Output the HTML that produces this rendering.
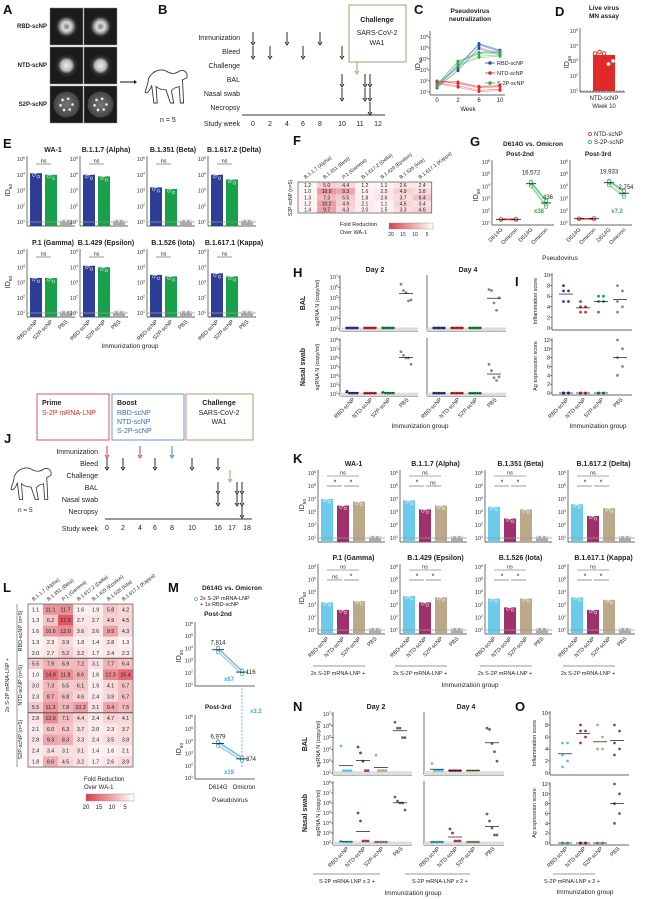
<!DOCTYPE html>
<html><head><meta charset="utf-8">
<style>
html,body{margin:0;padding:0;background:#fff;}
svg{display:block;font-family:"Liberation Sans",Arial,sans-serif;}
</style></head>
<body>
<svg id="fig" width="647" height="899" viewBox="0 0 647 899" xmlns="http://www.w3.org/2000/svg">
<defs>
<radialGradient id="emA" cx="50%" cy="50%" r="50%"><stop offset="0" stop-color="#777"/><stop offset="0.35" stop-color="#ddd"/><stop offset="0.55" stop-color="#999"/><stop offset="0.8" stop-color="#2a2a2a"/><stop offset="1" stop-color="#1a1a1a"/></radialGradient>
<radialGradient id="emB" cx="50%" cy="50%" r="50%"><stop offset="0" stop-color="#eee"/><stop offset="0.45" stop-color="#bbb"/><stop offset="0.7" stop-color="#333"/><stop offset="1" stop-color="#1a1a1a"/></radialGradient>
<radialGradient id="emC" cx="50%" cy="50%" r="50%"><stop offset="0" stop-color="#777"/><stop offset="1" stop-color="#444"/></radialGradient>
<linearGradient id="foldGrad" x1="0" x2="1"><stop offset="0" stop-color="#d8404c"/><stop offset="1" stop-color="#ffffff"/></linearGradient>
</defs>
</svg>
<script>
// ---------- DATA ----------
const eTitles = ["WA-1","B.1.1.7 (Alpha)","B.1.351 (Beta)","B.1.617.2 (Delta)","P.1 (Gamma)","B.1.429 (Epsilon)","B.1.526 (Iota)","B.1.617.1 (Kappa)"];
const eGroups = ["RBD-scNP","S2P-scNP","PBS"];
const eValues = [[4.1,4.0,1],[4.0,3.9,1],[3.2,3.1,1],[4.0,3.7,1],[3.3,3.3,1],[4.1,4.0,1],[3.5,3.4,1],[3.6,3.4,1]];
const kGroups = ["RBD-scNP","NTD-scNP","S2P-scNP","PBS"];
const kValues = [[4.0,3.5,3.8,1],[3.9,3.2,3.5,1],[3.4,2.5,3.2,1],[3.6,2.7,3.3,1],[3.2,2.6,3.3,1],[3.7,3.2,3.6,1],[3.5,2.8,3.5,1],[3.6,2.6,3.4,1]];
const kSig = [["*","*"],["*","ns"],["*","*"],["*","*"],["ns","*"],["*","*"],["*","*"],["*","*"]];
const cWeeks = ["0","2","6","10"];
const cRBD = [1.5,3.2,5.2,4.6];
const cNTD = [1.9,1.7,1.3,1.4];
const cS2P = [1.6,3.6,4.4,4.5];
const dValue = [3.4];
const dPoints = [3.5,3.6,3.5,2.8,3.0];
const fCols = ["B.1.1.7 (Alpha)","B.1.351 (Beta)","P.1 (Gamma)","B.1.617.2 (Delta)","B.1.429 (Epsilon)","B.1.526 (Iota)","B.1.617.1 (Kappa)"];
const fValues = [[1.2,5.0,4.4,1.2,1.1,2.6,2.4],[1.0,10.9,9.3,1.6,2.5,4.9,3.8],[1.3,7.3,5.5,1.8,2.6,3.7,6.4],[1.2,10.2,4.9,2.1,1.1,4.5,3.4],[1.4,9.7,4.3,2.0,1.5,3.3,4.6]];
const lValues = [[1.1,11.1,11.7,1.6,1.9,5.8,4.2],[1.3,6.2,17.3,2.7,2.7,4.9,4.5],[1.6,10.6,12.0,3.6,2.6,9.9,4.3],[1.3,2.3,3.9,1.8,1.4,2.8,1.3],[2.0,2.7,5.2,3.2,1.7,2.4,2.3],
[5.5,7.9,6.9,7.2,3.1,7.7,6.4],[1.0,14.9,11.8,8.6,1.6,12.3,15.4],[3.0,7.3,5.5,6.1,1.9,4.1,6.7],[2.3,8.7,6.8,4.6,2.4,3.8,6.7],[5.5,11.3,7.8,10.3,3.1,9.4,7.5],
[2.8,12.0,7.1,4.4,2.4,4.7,4.1],[2.1,6.0,6.3,3.7,2.0,2.3,3.7],[2.8,9.3,8.3,3.3,2.4,3.5,3.8],[2.4,3.4,3.1,3.1,1.4,1.6,2.1],[1.8,8.6,4.5,3.2,1.7,2.6,3.9]];
const gLabels = ["D614G","Omicron","D614G","Omicron"];
const gPost2 = [1.3,1.3,4.22,2.64];
const gPost3 = [1.35,1.35,4.30,3.44];
const hGroups = ["RBD-scNP","NTD-scNP","S2P-scNP","PBS"];
const hBalD2 = [[2.1,2.1,2.1,2.1,2.1],[2.1,2.1,2.1,2.1,2.1],[2.1,2.1,2.1,2.1,2.1],[6.3,5.7,5.5,4.7,4.8]];
const hBalD4 = [[2.1,2.1,2.1,2.1,2.1],[2.1,2.1,2.1,2.1,2.1],[2.1,2.1,2.1,2.1,2.1],[5.8,5.7,4.5,3.8,5.0]];
const hNasD2 = [[2.3,2.1,2.1,2.1,2.1],[2.1,2.1,2.1,2.1,2.1],[2.2,2.1,2.1,2.1,2.1],[6.7,6.3,6.0,6.0,5.3]];
const hNasD4 = [[2.1,2.1,2.1,2.1,2.1],[2.1,2.1,2.1,2.1,2.1],[2.1,2.1,2.1,2.1,2.1],[5.3,4.6,3.8,3.5,3.9]];
const iInflam = [[8,7,7,5,5],[5,4,4,3,3],[6,6,5,5,3],[8,7,5,4,3]];
const iAg = [[0,0,0,0,0],[0,0,0,0,0],[0,0,0,0,0],[12,10,8,6,4]];
const mPost2 = [3.89,2.06];
const mPost3 = [3.84,2.57];
const nBalD2 = [[4.3,2.2,2.2,2.2,2.2],[4.2,3.7,3.0,2.2,2.2],[3.5,2.2,2.2,2.2,2.2],[6.3,5.8,5.8,5.0,5.0]];
const nBalD4 = [[2.8,2.2,2.2,2.2,2.2],[2.2,2.2,2.2,2.2,2.2],[2.2,2.2,2.2,2.2,2.2],[5.8,5.7,4.5,3.8,3.0]];
const nNasD2 = [[2.2,2.1,2.1,2.1,2.1],[5.0,4.2,2.2,2.2,2.2],[2.1,2.1,2.1,2.1,2.1],[6.6,6.2,6.0,6.0,5.3]];
const nNasD4 = [[2.1,2.1,2.1,2.1,2.1],[3.4,3.0,2.2,2.2,2.2],[2.1,2.1,2.1,2.1,2.1],[4.9,4.2,3.5,2.8,2.8]];
const oInflam = [[5,5,3,2,1],[8,7,7,6,5],[8,6,4,4,4],[8,7,5,4,3]];
const oAg = [[0,0,0,0,0],[0,0,0,0,0],[0,0,0,0,0],[12,10,8,6,4]];

// ---------- HELPERS ----------
const NS='http://www.w3.org/2000/svg';
const svg=document.getElementById('fig');
function mk(tag,attrs,parent){const e=document.createElementNS(NS,tag);for(const k in attrs)e.setAttribute(k,attrs[k]);(parent||svg).appendChild(e);return e;}
function T(x,y,s,size,name,opts){opts=opts||{};
 const e=mk('text',{x:x,y:y,'font-size':size,'text-anchor':opts.a||'start',fill:opts.c||'#222','font-weight':opts.b?'bold':'normal'});
 if(opts.r!==undefined)e.setAttribute('transform','rotate('+opts.r+' '+x+' '+y+')');
 e.textContent=s;
 
 
 return e;}
function L(x1,y1,x2,y2,c,w,name,dash){const e=mk('line',{x1:x1,y1:y1,x2:x2,y2:y2,stroke:c||'#333','stroke-width':w||0.7});if(dash)e.setAttribute('stroke-dasharray',dash);
 
 
 return e;}
function pow(x,y,exp,size,name){const e=mk('text',{x:x,y:y,'font-size':size,'text-anchor':'end',fill:'#333'});
 e.appendChild(document.createTextNode('10'));
 const t=mk('tspan',{'font-size':size*0.65,dy:-size*0.4},e);t.textContent=exp;
 
 
 return e;}
function idLabel(x,y,size){const e=mk('text',{x:x,y:y,'font-size':size,'text-anchor':'middle',fill:'#222',transform:'rotate(-90 '+x+' '+y+')'});
 e.appendChild(document.createTextNode('ID'));const t=mk('tspan',{'font-size':size*0.7,dy:size*0.3},e);t.textContent='50';
 
 }
function letter(x,y,s){T(x,y,s,13,'panel-label-'+s.toLowerCase(),{b:true,c:'#111'});}
function arrow(x,y1,y2,c,name){L(x,y1,x,y2-2,c||'#111',0.9,name);
 const p=mk('path',{d:`M${x-2},${y2-3} L${x},${y2} L${x+2},${y2-3}`,fill:'none',stroke:c||'#111','stroke-width':0.9});
 
 }
const jit=[0.18,-0.12,0.06,-0.22,0.12];

// ---------- A ----------
letter(3,14,'A');
const aRows=[['RBD-scNP','emA'],['NTD-scNP','emB'],['S2P-scNP','emC']];
aRows.forEach((r,i)=>{const y=8+i*39;
 T(47,y+20,r[0],6,'em-label',{a:'end',b:true});
 for(let j=0;j<2;j++){const g=mk('rect',{x:50+j*34,y:y,width:33,height:37,fill:'#1b1b1b',stroke:'#888','stroke-width':0.5});
  
  
  const c=mk('circle',{cx:66.5+j*34,cy:y+18.5,r:i==2?13:12,fill:'url(#'+r[1]+')'});
  
  
  if(i==2){for(let k=0;k<6;k++){const d=mk('circle',{cx:66.5+j*34+6*Math.cos(k),cy:y+18.5+6*Math.sin(k),r:1.3,fill:'#eee'});}}
 }});
L(120,82,136,82,'#111',1,'arrow-a-b');
mk('path',{d:'M134,80 L137,82 L134,84',fill:'#111'});

// ---------- monkey ----------
function monkey(x,y,s){const p=mk('path',{d:`M${x+4},${y+8} C${x+8},${y} ${x+16},${y-2} ${x+22},${y+2} C${x+26},${y+4} ${x+30},${y+3} ${x+32},${y+1} C${x+36},${y-1} ${x+40},${y+2} ${x+39},${y+7} L${x+35},${y+9} L${x+36},${y+30} L${x+33},${y+30} L${x+32},${y+15} C${x+28},${y+16} ${x+26},${y+17} ${x+25},${y+19} L${x+27},${y+30} L${x+24},${y+30} L${x+20},${y+18} C${x+16},${y+18} ${x+13},${y+17} ${x+11},${y+15} L${x+12},${y+30} L${x+9},${y+30} L${x+7},${y+14} C${x+5},${y+20} ${x+2},${y+22} ${x+1},${y+20} C${x+2},${y+16} ${x+4},${y+12} ${x+4},${y+8} Z`,fill:'none',stroke:'#333','stroke-width':0.8,transform:`scale(${s})`,'transform-origin':`${x} ${y}`});
 
 }

// ---------- B timeline ----------
letter(158,14,'B');
monkey(144,70,1.1);
T(160,122,'n = 5',7,'n-count');
const bRows=['Immunization','Bleed','Challenge','BAL','Nasal swab','Necropsy','Study week'];
const bRowY=[38,52,66,80,94,108,124];
bRows.forEach((r,i)=>T(240,bRowY[i]+2,r,7,'timeline-row-label',{a:'end'}));
const bWeeks=['0','2','4','6','8','10','11','12'];
const bWX=[253,270,287,303,320,342,360,378];
bWeeks.forEach((w,i)=>T(bWX[i],126,w,7,'week-tick',{a:'middle'}));
L(242,115,385,115,'#333',0.9,'timeline-axis');
[0,2,4].forEach(i=>arrow(bWX[i],32,45,'#111','immunization-arrow'));
[0,1,3,5].forEach(i=>arrow(bWX[i],46,59,'#111','bleed-arrow'));
arrow(357,62,74,'#b48a5e','challenge-arrow');
[[342],[365],[370]].forEach(a=>{arrow(a[0],74,87,'#111','bal-arrow');arrow(a[0],88,101,'#111','nasal-arrow');});
arrow(370,102,115,'#111','necropsy-arrow');
const bx=mk('rect',{x:349,y:5,width:57,height:57,fill:'#fff',stroke:'#b48a5e','stroke-width':0.9});
T(377,22,'Challenge',7,'challenge-title',{a:'middle',b:true});
T(377,35,'SARS-CoV-2',7,'challenge-virus',{a:'middle'});
T(377,45,'WA1',7,'challenge-strain',{a:'middle'});

// ---------- C ----------
letter(414,14,'C');
T(470,13,'Pseudovirus',6.5,'chart-title',{a:'middle',b:true});
T(470,21,'neutralization',6.5,'chart-title',{a:'middle',b:true});
const cY=v=>92-(v-1)*11; const cX=i=>437+i*21;
L(430,31,430,95,'#333',0.7,'y-axis');L(430,95,505,95,'#333',0.7,'x-axis');
[1,2,3,4,5,6].forEach(e=>{pow(428,cY(e)+2,e,5.5,'y-tick');L(428,cY(e),430,cY(e),'#333',0.6,'tick');});
cWeeks.forEach((w,i)=>T(cX(i),102,w,6,'x-tick',{a:'middle'}));
T(468,111,'Week',6,'x-axis-title',{a:'middle'});
idLabel(420,64,7);
[[cRBD,'#2e4aa0','RBD-scNP'],[cNTD,'#e02a2a','NTD-scNP'],[cS2P,'#2fae4a','S-2P-scNP']].forEach((s,k)=>{
 jit.forEach(j=>{const p=mk('polyline',{points:s[0].map((v,i)=>cX(i)+','+cY(v+j*(i>0?1.2:0.6))).join(' '),fill:'none',stroke:s[1],'stroke-width':0.5,opacity:0.7});
  
  
  s[0].forEach((v,i)=>{const c=mk('circle',{cx:cX(i),cy:cY(v+j*(i>0?1.2:0.6)),r:1.4,fill:s[1]});});});
 const ly=63+k*10;
 L(485,ly,495,ly,s[1],0.8,'legend-line');
 const c=mk('circle',{cx:490,cy:ly,r:1.8,fill:s[1]});
 T(497,ly+2,s[2],5.5,'legend-entry');});

// ---------- D ----------
letter(555,16,'D');
T(604,10,'Live virus',6.5,'chart-title',{a:'middle',b:true});
T(604,18,'MN assay',6.5,'chart-title',{a:'middle',b:true});
const dY=v=>91-(v-1)*15;
L(580,28,580,92,'#333',0.7,'y-axis');L(580,92,625,92,'#333',0.7,'x-axis');
[1,2,3,4,5].forEach(e=>{pow(578,dY(e)+2,e,5.5,'y-tick');});
idLabel(569,62,7);
L(580,dY(1),625,dY(1),'#333',0.6,'lod-line','2,1');
const db=mk('rect',{x:593,y:dY(dValue[0]),width:22,height:91-dY(dValue[0]),fill:'#e02a2a'});
dPoints.forEach((v,j)=>{const c=mk('circle',{cx:595+j*4.5,cy:dY(v),r:1.8,fill:'#fff',stroke:j<3?'#e02a2a':'none'});});
T(604,100,'NTD-scNP',6,'x-tick',{a:'middle'});T(604,108,'Week 10',6,'x-tick',{a:'middle'});

// ---------- bar panels E and K ----------
function barPanel(px,y0,y1,maxE,title,vals,cols,step,bw,pre,sig,showX,groups){
 const yv=v=>y1-(v-1)*(y1-y0)/(maxE-1);
 const n=vals.length, xe=px+3+n*step;
 T(px+(xe-px)/2+2,y0-7,title,7,'panel-title',{a:'middle',b:true});
 L(px,y0-3,px,y1+4,'#333',0.7,'y-axis');L(px,y1+4,xe,y1+4,'#333',0.7,'x-axis');
 for(let e=1;e<=maxE;e++){pow(px-2,yv(e)+2,e,5.5,'y-tick');}
 vals.forEach((v,i)=>{const bx=px+3+i*step;
  const r=mk('rect',{x:bx,y:yv(v)-(i==n-1?2:0),width:bw,height:y1+4-yv(v)+(i==n-1?2:0),fill:cols[i]});
  
  
  jit.forEach((j,k)=>{const c=mk('circle',{cx:bx+1.5+k*2.3,cy:yv(v+(i==n-1?0.05:j)),r:1.4,fill:k%2?cols[i]:'#fff',stroke:i==n-1?'#bbb':'#fff','stroke-width':0.5});
   
   });
  if(showX){T(bx+bw/2+2,y1+9,groups[i],5.5,'x-tick',{a:'end',r:-45});}
 });
 L(px,yv(1),xe,yv(1),'#999',0.7,'lod-line');
 if(sig==='ns'){const sy=y0+5;L(px+3+bw/2,sy,px+3+step+bw/2,sy,'#555',0.6,'sig-bar');T(px+3+step/2+bw/2,sy-1.5,'ns',5.5,'sig-label',{a:'middle'});}
 else if(sig){L(px+3+bw/2,y0+3,px+3+2*step+bw/2,y0+3,'#555',0.6,'sig-bar');T(px+3+step+bw/2,y0+1.5,'ns',5.5,'sig-label',{a:'middle'});
  L(px+3+bw/2,y0+13,px+3+step+bw/2-1,y0+13,'#555',0.6,'sig-bar');T(px+3+step/2+bw/2,y0+11.5,sig[0],sig[0]=='*'?7:5.5,'sig-label',{a:'middle'});
  L(px+3+step+bw/2+1,y0+13,px+3+2*step+bw/2,y0+13,'#555',0.6,'sig-bar');T(px+3+1.5*step+bw/2,y0+11.5,sig[1],sig[1]=='*'?7:5.5,'sig-label',{a:'middle'});}
}
letter(3,148,'E');
const ePX=[27,80,147,208];
eValues.forEach((v,i)=>{const r=Math.floor(i/4);barPanel(ePX[i%4],r?252:159,r?313:222,5,eTitles[i],v,['#2e3d96','#19a04a','#aaa'],15,12,'e','ns',r==1,eGroups);});
idLabel(10,190,7);idLabel(10,282,7);
T(130,348,'Immunization group',6.5,'x-axis-title',{a:'middle'});

letter(293,463,'K');
const kPX=[318,400,485,568];
kValues.forEach((v,i)=>{const r=Math.floor(i/4);barPanel(kPX[i%4],r?567:473,r?630:538,6,eTitles[i],v,['#6ccbea','#a0306a','#bba98a','#aaa'],16,12,'k',kSig[i],r==1,kGroups);
 if(r==1){L(kPX[i%4]-5,666,kPX[i%4]+47,666,'#333',0.6,'group-underline');T(kPX[i%4]+20,675,'2x S-2P mRNA-LNP +',5.5,'group-caption',{a:'middle'});}});
idLabel(304,505,7);idLabel(304,598,7);
T(470,687,'Immunization group',6.5,'x-axis-title',{a:'middle'});

// ---------- heatmaps ----------
function heat(x0,y0,cw,ch,vals,name,fs){
 vals.forEach((row,r)=>row.forEach((v,c)=>{const t=Math.min(v/20,1);
  const R=Math.round(255-(255-216)*t),G=Math.round(255-(255-64)*t),B=Math.round(255-(255-76)*t);
  const e=mk('rect',{x:x0+c*cw,y:y0+r*ch,width:cw,height:ch,fill:`rgb(${R},${G},${B})`});
  
  
  T(x0+c*cw+cw/2,y0+r*ch+ch/2+fs*0.35,v.toFixed(1),fs,name+'-value',{a:'middle'});}));
 const b=mk('rect',{x:x0,y:y0,width:cw*7,height:ch*vals.length,fill:'none',stroke:'#666','stroke-width':0.8});
 fCols.forEach((c,i)=>T(x0+i*cw+cw/2-2,y0-3,c,5,'column-header',{r:-38}));
}
letter(293,145,'F');
heat(298,182,19.1,6.2,fValues,'f-heatmap',5);
T(292,198,'S2P-scNP (n=5)',5,'row-group-label',{a:'middle',r:-90});
T(340,226,'Fold Reduction',5.5,'legend-title');T(340,234,'Over WA-1',5.5,'legend-title');
const fg=mk('rect',{x:389,y:223,width:44,height:6,fill:'url(#foldGrad)',stroke:'#888','stroke-width':0.4});
['20','15','10','5'].forEach((s,i)=>T(391+i*12,236,s,5,'color-scale-tick',{a:'middle'}));

letter(3,592,'L');
heat(28,604,15,10.87,lValues,'l-heatmap',5.3);
L(28,658.3,133,658.3,'#555',1,'group-separator');L(28,712.7,133,712.7,'#555',1,'group-separator');
['RBD-scNP (n=5)','NTD-scNP (n=5)','S2P-scNP (n=5)'].forEach((s,i)=>T(22,631+i*54.3,s,5.5,'row-group-label',{a:'middle',r:-90}));
L(17,604,17,767,'#555',0.6,'bracket');
T(9,685,'2x S-2P mRNA-LNP +',5.5,'row-supergroup-label',{a:'middle',r:-90});
T(84,781,'Fold Reduction',6,'legend-title');T(84,789,'Over WA-1',6,'legend-title');
const lg=mk('rect',{x:86,y:794,width:48,height:7,fill:'url(#foldGrad)',stroke:'#888','stroke-width':0.4});
['20','15','10','5'].forEach((s,i)=>T(86+i*13,809,s,6,'color-scale-tick',{a:'middle'}));

// ---------- G ----------
letter(470,146,'G');
T(533,146,'D614G vs. Omicron',6.5,'chart-title',{a:'middle',b:true});
const leg=[['NTD-scNP','#e02a2a'],['S-2P-scNP','#2fae4a']];
leg.forEach((l,i)=>{const c=mk('circle',{cx:590,cy:134+i*8,r:1.6,fill:'none',stroke:l[1],'stroke-width':0.7});T(594,136+i*8,l[0],6,'legend-entry');});
function gPanel(ax,vals,title,ann){
 const gy=v=>223-(v-1)*12.2; const gx=i=>ax+9+i*15;
 T(ax+28,156,title,6.5,'subpanel-title',{a:'middle',b:true});
 L(ax,160,ax,225,'#333',0.7,'y-axis');L(ax,225,ax+62,225,'#333',0.7,'x-axis');
 for(let e=1;e<=6;e++)pow(ax-2,gy(e)+2,e,5.5,'y-tick');
 gLabels.forEach((s,i)=>T(gx(i)+2,230,s,5.5,'x-tick',{a:'end',r:-45}));
 const col=['#e02a2a','#e02a2a','#2fae4a','#2fae4a'];
 [[0,1],[2,3]].forEach(p=>{jit.forEach(j=>{const jj=p[0]==0?j*0.2:j;
  const ln=mk('line',{x1:gx(p[0]),y1:gy(vals[p[0]]+jj),x2:gx(p[1]),y2:gy(vals[p[1]]+jj*1.5),stroke:col[p[0]],'stroke-width':0.5});
  
  [p[0],p[1]].forEach((q,k)=>{const c=mk('circle',{cx:gx(q),cy:gy(vals[q]+jj*(k?1.5:1)),r:1.5,fill:'#fff',stroke:col[q],'stroke-width':0.6});});});
  p.forEach(q=>L(gx(q)-5,gy(vals[q]),gx(q)+5,gy(vals[q]),'#111',0.8,'median-bar'));});
 T(gx(2),gy(vals[2])-9,ann[0],6,'annotation',{a:'middle'});
 T(gx(3)+2,gy(vals[3])-4,ann[1],6,'annotation',{a:'middle'});
 T(gx(2)+8,213,ann[2],6,'fold-change',{a:'middle',b:true,c:'#2fae4a'});
}
gPanel(492,gPost2,'Post-2nd',['16,572','436','x38']);
gPanel(570,gPost3,'Post-3rd',['19,933','2,754','x7.2']);
idLabel(478,195,7);
T(560,260,'Pseudovirus',6.5,'x-axis-title',{a:'middle'});

// ---------- dot panels ----------
function dotPanel(ax,ytop,ybot,minE,maxE,vals,cols,gx,logScale,ticks,grey){
 const yv=v=>ybot-(v-minE)*(ybot-ytop)/(maxE-minE);
 L(ax,ytop-2,ax,ybot+2,'#333',0.7,'y-axis');L(ax,ybot+2,gx[3]+12,ybot+2,'#333',0.7,'x-axis');
 if(grey){const g=mk('rect',{x:ax,y:yv(minE+0.15),width:gx[3]+12-ax,height:ybot+2-yv(minE+0.15),fill:'#ddd'});}
 if(ticks) ticks.forEach(t=>{if(logScale)pow(ax-2,yv(t)+2,t,5.5,'y-tick');else T(ax-2,yv(t)+2,String(t),5.5,'y-tick',{a:'end'});L(ax-2,yv(t),ax,yv(t),'#333',0.6,'tick');});
 vals.forEach((g,i)=>{const m=g.reduce((a,b)=>a+b,0)/g.length;
  g.forEach((v,k)=>{const spread=logScale?(k*2.5-5):((k%2)*5-2.5);const c=mk('circle',{cx:gx[i]+spread,cy:yv(v),r:1.4,fill:cols[i]});});
  L(gx[i]-7,yv(m),gx[i]+7,yv(m),'#111',0.7,'mean-bar');});
}
letter(293,277,'H');
T(375,272,'Day 2',7,'subpanel-title',{a:'middle',b:true});T(468,272,'Day 4',7,'subpanel-title',{a:'middle',b:true});
const hCols=['#2e3d96','#e02a2a','#19a04a','#888'];
const hX2=[352,370,388,406],hX4=[439,457,475,494];
dotPanel(340,277,329,2,7,hBalD2,hCols,hX2,true,[2,3,4,5,6,7],true);
dotPanel(427,277,329,2,7,hBalD4,hCols,hX4,true,null,true);
dotPanel(340,340,394,2,8,hNasD2,hCols,hX2,true,[2,3,4,5,6,7,8],true);
dotPanel(427,340,394,2,8,hNasD4,hCols,hX4,true,null,true);
T(305,303,'BAL',7,'row-label',{a:'middle',b:true,r:-90});T(305,367,'Nasal swab',7,'row-label',{a:'middle',b:true,r:-90});
T(319,303,'sgRNA N (copy/ml)',5.5,'y-axis-title',{a:'middle',r:-90});T(319,367,'sgRNA N (copy/ml)',5.5,'y-axis-title',{a:'middle',r:-90});
hGroups.forEach((g,i)=>{T(hX2[i]+3,400,g,5.5,'x-tick',{a:'end',r:-45});T(hX4[i]+3,400,g,5.5,'x-tick',{a:'end',r:-45});});
T(420,428,'Immunization group',6.5,'x-axis-title',{a:'middle'});

letter(515,286,'I');
const iX=[566,583,601,620];
dotPanel(552,275,328,0,10,iInflam,hCols,iX,false,[0,2,4,6,8,10],false);
dotPanel(552,340,393,0,12,iAg,hCols,iX,false,[0,2,4,6,8,10,12],false);
T(537,301,'Inflammation score',5.5,'y-axis-title',{a:'middle',r:-90});T(537,366,'Ag expression score',5.5,'y-axis-title',{a:'middle',r:-90});
hGroups.forEach((g,i)=>T(iX[i]+3,400,g,5.5,'x-tick',{a:'end',r:-45}));
T(598,428,'Immunization group',6.5,'x-axis-title',{a:'middle'});

// ---------- M ----------
letter(168,592,'M');
T(232,590,'D614G vs. Omicron',6.5,'chart-title',{a:'middle',b:true});
const mc=mk('circle',{cx:196,cy:599,r:1.5,fill:'none',stroke:'#4aa8d8','stroke-width':0.7});
T(200,600,'2x S-2P mRNA-LNP',5.5,'legend-entry');T(200,606,'+ 1x RBD-scNP',5.5,'legend-entry');
function mPanel(y10,vals,title,ann){
 const my=v=>y10-(v-1)*12.2, mx=[218,242];
 T(218,y10-69,title,6.5,'subpanel-title',{a:'middle',b:true});
 L(195,y10-63,195,y10+1,'#333',0.7,'y-axis');L(195,y10+1,255,y10+1,'#333',0.7,'x-axis');
 for(let e=1;e<=6;e++)pow(193,my(e)+2,e,5.5,'y-tick');
 jit.forEach(j=>{const ln=mk('line',{x1:mx[0],y1:my(vals[0]+j),x2:mx[1],y2:my(vals[1]+j*0.8),stroke:'#4aa8d8','stroke-width':0.5});
  [0,1].forEach(k=>{const c=mk('circle',{cx:mx[k],cy:my(vals[k]+j*(k?0.8:1)),r:1.5,fill:'#fff',stroke:'#4aa8d8','stroke-width':0.6});});});
 [0,1].forEach(k=>L(mx[k]-6,my(vals[k]),mx[k]+6,my(vals[k]),'#111',0.8,'median-bar'));
 T(mx[0],my(vals[0])-5,ann[0],6,'annotation',{a:'middle'});
 T(mx[1]+4,my(vals[1])+2,ann[1],6,'annotation');
 T(229,y10-4,ann[2],6,'fold-change',{a:'middle',b:true,c:'#4aa8d8'});
}
mPanel(685,mPost2,'Post-2nd',['7,814','116','x67']);
mPanel(778,mPost3,'Post-3rd',['6,979','374','x19']);
L(242,688,242,768,'#4aa8d8',0.8,'x3.2-arrow','2,1.5');
T(250,713,'x3.2',6,'fold-change',{b:true,c:'#4aa8d8'});
idLabel(181,656,7);idLabel(181,749,7);
T(218,789,'D614G',6,'x-tick',{a:'middle'});T(244,789,'Omicron',6,'x-tick',{a:'middle'});
T(230,802,'Pseudovirus',6.5,'x-axis-title',{a:'middle'});

// ---------- N ----------
letter(293,711,'N');
T(376,709,'Day 2',7,'subpanel-title',{a:'middle',b:true});T(466,709,'Day 4',7,'subpanel-title',{a:'middle',b:true});
const nCols=['#5cc4ea','#a0306a','#bba98a','#666'];
const nX2=[346,363,381,400],nX4=[437,455,473,492];
dotPanel(333,714,773,2,7,nBalD2,nCols,nX2,true,[2,3,4,5,6,7],true);
dotPanel(424,714,773,2,7,nBalD4,nCols,nX4,true,null,true);
dotPanel(333,783,843,2,8,nNasD2,nCols,nX2,true,[2,3,4,5,6,7,8],true);
dotPanel(424,783,843,2,8,nNasD4,nCols,nX4,true,null,true);
T(307,744,'BAL',7,'row-label',{a:'middle',b:true,r:-90});T(307,813,'Nasal swab',7,'row-label',{a:'middle',b:true,r:-90});
T(320,744,'sgRNA N (copy/ml)',5.5,'y-axis-title',{a:'middle',r:-90});T(320,813,'sgRNA N (copy/ml)',5.5,'y-axis-title',{a:'middle',r:-90});
hGroups.forEach((g,i)=>{T(nX2[i]+3,849,g,5.5,'x-tick',{a:'end',r:-45});T(nX4[i]+3,849,g,5.5,'x-tick',{a:'end',r:-45});});
L(313,874,380,874,'#333',0.6,'group-underline');L(405,874,470,874,'#333',0.6,'group-underline');
T(347,883,'S-2P mRNA-LNP x 2 +',5.5,'group-caption',{a:'middle'});T(440,883,'S-2P mRNA-LNP x 2 +',5.5,'group-caption',{a:'middle'});
T(413,895,'Immunization group',6.5,'x-axis-title',{a:'middle'});

// ---------- O ----------
letter(515,711,'O');
const oX=[565,583,600,617];
dotPanel(550,713,773,0,10,oInflam,nCols,oX,false,[0,2,4,6,8,10],false);
dotPanel(550,784,843,0,12,oAg,nCols,oX,false,[0,2,4,6,8,10,12],false);
T(536,743,'Inflammation score',5.5,'y-axis-title',{a:'middle',r:-90});T(536,813,'Ag expression score',5.5,'y-axis-title',{a:'middle',r:-90});
hGroups.forEach((g,i)=>T(oX[i]+3,849,g,5.5,'x-tick',{a:'end',r:-45}));
L(553,874,595,874,'#333',0.6,'group-underline');
T(572,883,'S-2P mRNA-LNP x 2 +',5.5,'group-caption',{a:'middle'});
T(585,894,'Immunization group',6.5,'x-axis-title',{a:'middle'});

// ---------- J ----------
letter(4,443,'J');
const jBoxes=[[37,'#d94050','Prime',['S-2P mRNA-LNP'],'#d02a2a'],[112,'#5a8fcf','Boost',['RBD-scNP','NTD-scNP','S-2P-scNP'],'#2f6cc0'],[186,'#b48a5e','Challenge',['SARS-CoV-2','WA1'],'#222']];
jBoxes.forEach((b,i)=>{const r=mk('rect',{x:b[0],y:394,width:i==2?67:72,height:46,fill:'#fff',stroke:b[1],'stroke-width':0.9});
 const cx=i==2?b[0]+33:b[0]+5;
 T(cx,405,b[2],7,'regimen-title',{b:true,a:i==2?'middle':'start'});
 b[3].forEach((s,k)=>T(cx,415+k*9,s,7,'regimen-item',{c:b[4],a:i==2?'middle':'start'}));});
monkey(10,468,1.05);
T(18,512,'n = 5',6.5,'n-count');
const jRowY=[452,464,476,488,500,512,529];
bRows.forEach((r,i)=>T(98,jRowY[i]+2,r,7,'timeline-row-label',{a:'end'}));
const jWeeks=['0','2','4','6','8','10','16','17','18'];
const jWX=[107,123,140,155,172,192,218,232,247];
jWeeks.forEach((w,i)=>T(jWX[i],530,w,7,'week-tick',{a:'middle'}));
L(105,519,252,519,'#333',0.9,'timeline-axis');
arrow(107,446,458,'#d02a2a','immunization-arrow');arrow(140,446,458,'#d02a2a','immunization-arrow');arrow(172,446,458,'#2f6cc0','immunization-arrow');
[0,1,3,5,6].forEach(i=>arrow(jWX[i],458,470,'#111','bleed-arrow'));
arrow(230,470,482,'#b48a5e','challenge-arrow');
[218,237,242].forEach(x=>{arrow(x,482,494,'#111','bal-arrow');arrow(x,494,506,'#111','nasal-arrow');});
arrow(242,506,518,'#111','necropsy-arrow');
</script>
</body></html>
